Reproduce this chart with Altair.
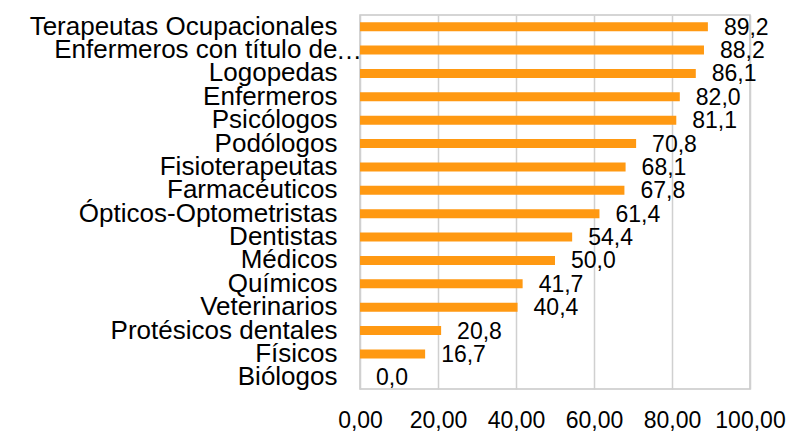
import altair as alt
import pandas as pd

categories = [
    "Terapeutas Ocupacionales", "Enfermeros con título de", "Logopedas", "Enfermeros",
    "Psicólogos", "Podólogos", "Fisioterapeutas", "Farmacéuticos",
    "Ópticos-Optometristas", "Dentistas", "Médicos", "Químicos",
    "Veterinarios", "Protésicos dentales", "Físicos", "Biólogos",
]
values = [89.2, 88.2, 86.1, 82.0, 81.1, 70.8, 68.1, 67.8, 61.4, 54.4, 50.0, 41.7, 40.4, 20.8, 16.7, 0.0]
x_ticks = [0, 20, 40, 60, 80, 100]
truncated = ["Enfermeros con título de"]

df = pd.DataFrame({"cat": categories, "val": values})
FONT = "Liberation Sans"

yenc = alt.Y("cat:N", sort=categories, title=None,
             scale=alt.Scale(domain=categories, paddingInner=0, paddingOuter=0),
             axis=alt.Axis(labelFontSize=26, labelFont=FONT, labelColor="#000",
                           ticks=False, domain=False, labelPadding=23, labelLimit=400))

base = alt.Chart(df).encode(y=yenc)

bars = base.mark_bar(color="#ff9912", size=9).encode(
    x=alt.X("val:Q", title=None,
            scale=alt.Scale(domain=[0, 100], nice=False),
            axis=alt.Axis(values=x_ticks, labelExpr="replace(format(datum.value, '.2f'), '.', ',')",
                          labelFontSize=23, labelFont=FONT, labelColor="#000",
                          ticks=False, domain=False, labelPadding=20,
                          gridColor="#d0d0d0", gridWidth=1.5, labelFlush=False)),
)

labels = base.mark_text(align="left", baseline="middle", dx=16, dy=1,
                        fontSize=23, font=FONT, color="#000").encode(
    x="val:Q",
    text=alt.Text("label:N"),
).transform_calculate(label="replace(format(datum.val, '.1f'), '.', ',')")

ellipsis = alt.Chart(pd.DataFrame({"cat": truncated})).mark_text(
    align="left", baseline="middle", fontSize=26, font=FONT, color="#000", dx=-24, dy=1
).encode(
    y=alt.Y("cat:N", sort=categories, title=None,
            scale=alt.Scale(domain=categories, paddingInner=0, paddingOuter=0)),
    x=alt.value(0),
    text=alt.value("…"),
)

chart = (bars + labels + ellipsis).properties(
    width=390, height=374,
    autosize=alt.AutoSizeParams(type="none"),
    padding={"left": 352, "top": 7, "right": 39, "bottom": 42},
).configure_view(stroke="#c8c8c8", strokeWidth=1.5)

chart.save("out.html", embed_options={"renderer": "svg", "actions": False})
